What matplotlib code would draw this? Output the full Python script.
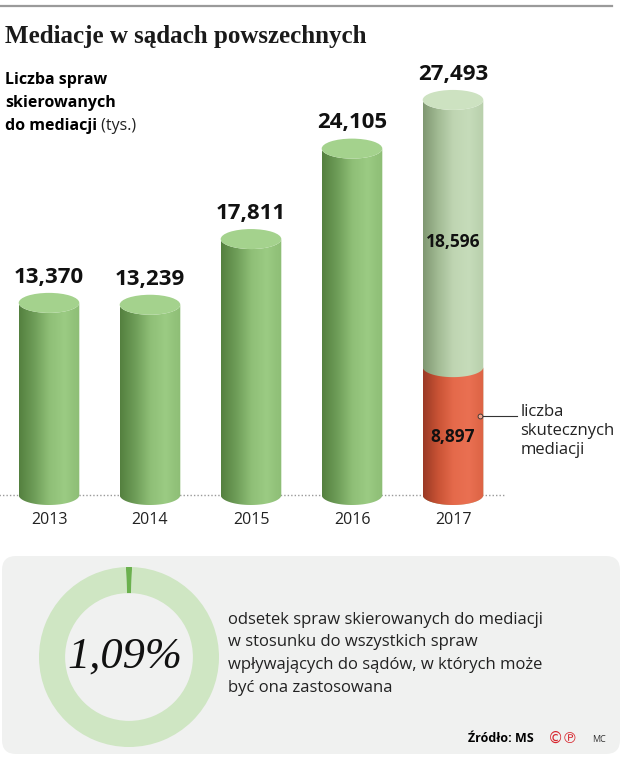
import matplotlib
matplotlib.use('Agg')
import matplotlib.pyplot as plt
import numpy as np
from matplotlib.patches import Ellipse, PathPatch, FancyBboxPatch
from matplotlib.path import Path
from matplotlib.colors import LinearSegmentedColormap

# data (tys.)
years = ['2013', '2014', '2015', '2016', '2017']
totals = [13.370, 13.239, 17.811, 24.105, 27.493]
total_labels = ['13,370', '13,239', '17,811', '24,105', '27,493']
success_2017 = 8.897
rest_2017 = 18.596
share = [1.09, 100 - 1.09]

SANS = 'Open Sans'
W, H = 635, 760

green_cm = LinearSegmentedColormap.from_list('g', ['#54803f', '#6e9d58', '#8fbf77', '#9bcb83', '#8dbd75'])
pale_cm = LinearSegmentedColormap.from_list('p', ['#7f9771', '#a2bb94', '#bfd5b2', '#c6dcba', '#b8cfab'])
red_cm = LinearSegmentedColormap.from_list('r', ['#9a3925', '#c95335', '#e56a4b', '#ea7052', '#dc6344'])

fig = plt.figure(figsize=(W / 100, H / 100), dpi=100)

# background layer in pixel coords
bg = fig.add_axes([0, 0, 1, 1], zorder=0)
bg.set_xlim(0, W)
bg.set_ylim(H, 0)
bg.axis('off')
bg.plot([0, 612], [6, 6], color='#9a9a9a', lw=1.6)
bg.text(5, 36, 'Mediacje w sądach powszechnych', family='Liberation Serif',
        weight='bold', fontsize=18, va='center', ha='left', color='#1a1a1a')
bg.text(5, 80, 'Liczba spraw', family=SANS, weight='bold', fontsize=11.5, va='center')
bg.text(5, 103, 'skierowanych', family=SANS, weight='bold', fontsize=11.5, va='center')
t = bg.text(5, 126, 'do mediacji', family=SANS, weight='bold', fontsize=11.5, va='center')
bg.annotate(' (tys.)', xycoords=t, xy=(1, 0.5), va='center', ha='left',
            family=SANS, fontsize=11.5, color='#222222')

bg.add_patch(FancyBboxPatch((2, 556), 618, 198, boxstyle='round,pad=0,rounding_size=14',
                            fc='#f0f1f0', ec='none'))
desc = ['odsetek spraw skierowanych do mediacji',
        'w stosunku do wszystkich spraw',
        'wpływających do sądów, w których może',
        'być ona zastosowana']
for k, line in enumerate(desc):
    bg.text(228, 620 + 22.5 * k, line, family=SANS, fontsize=12, va='center', color='#222222')
bg.text(468, 738, 'Źródło: MS', family=SANS, weight='bold', fontsize=9, va='center')
bg.text(548, 738, '©℗', family='DejaVu Sans', fontsize=11, va='center', color='#d8262e')
bg.text(592, 739, 'MC', family=SANS, fontsize=6.5, va='center', color='#333333')

# bar chart
px_per_unit = 14.37
base_py = 495
top_py, bot_py = 60, 545
ax = fig.add_axes([0, 1 - bot_py / H, 1, (bot_py - top_py) / H], zorder=1)
ax.patch.set_alpha(0)
ax.axis('off')
w = 0.6
e = 20 / px_per_unit


def body(ax, x, y0, y1, cmap, zo):
    tt = np.linspace(np.pi, 2 * np.pi, 40)
    bottom = np.column_stack([x + w / 2 * np.cos(tt), y0 + e / 2 * np.sin(tt)])
    top = np.column_stack([x + w / 2 * np.cos(tt[::-1]), y1 + e / 2 * np.sin(tt[::-1])])
    verts = np.vstack([[[x - w / 2, y1]], bottom, top, [[x - w / 2, y1]]])
    codes = [Path.MOVETO] + [Path.LINETO] * (len(verts) - 2) + [Path.CLOSEPOLY]
    patch = PathPatch(Path(verts, codes), fc='none', ec='none')
    ax.add_patch(patch)
    grad = np.linspace(0, 1, 256).reshape(1, -1)
    im = ax.imshow(grad, cmap=cmap, extent=[x - w / 2, x + w / 2, y0 - e / 2, y1 + e / 2],
                   aspect='auto', zorder=zo)
    im.set_clip_path(patch)


x = np.arange(len(years))
ax.plot([-0.5, 4.5], [0, 0], color='#999999', lw=1, ls=(0, (1, 1.5)), zorder=1)
for i, v in enumerate(totals):
    last = i == len(totals) - 1
    body(ax, x[i], 0, v, pale_cm if last else green_cm, 2)
    ax.add_patch(Ellipse((x[i], v), w, e, fc='#cde2c1' if last else '#a4d28d', ec='none', zorder=3))
    ax.annotate(total_labels[i], (x[i], v), xytext=(0, 18.5), textcoords='offset points',
                ha='center', va='center', family=SANS, weight='bold', fontsize=16, color='#111111')
    ax.text(x[i], -1.75, years[i], ha='center', va='center', family=SANS, fontsize=11.5, color='#222222')

body(ax, x[-1], 0, success_2017, red_cm, 4)
ax.text(x[-1], (success_2017 + totals[-1]) / 2 - 0.6, '{:,.3f}'.format(rest_2017).replace('.', ','),
        ha='center', va='center', family=SANS, weight='bold', fontsize=12.5, color='#111111', zorder=5)
ax.text(x[-1], success_2017 / 2 - 0.4, '{:,.3f}'.format(success_2017).replace('.', ','),
        ha='center', va='center', family=SANS, weight='bold', fontsize=12.5, color='#111111', zorder=5)

# callout for the red part
ay = 5.5
ax.plot([x[-1] + 0.27, x[-1] + 0.63], [ay, ay], color='#333333', lw=0.8, zorder=5)
ax.plot([x[-1] + 0.27], [ay], 'o', ms=3.5, mfc='#f3a58e', mec='#333333', mew=0.6, zorder=6)
ax.text(x[-1] + 0.665, ay + 0.85, 'liczba\nskutecznych\nmediacji', ha='left', va='top',
        family=SANS, fontsize=12, linespacing=1.25, color='#222222', zorder=5)

ax.set_xlim(-49 / 101, (W - 49) / 101)
ax.set_ylim((base_py - bot_py) / px_per_unit, (base_py - top_py) / px_per_unit)

# donut
dx, dy, r = 129, 657, 90
dax = fig.add_axes([(dx - r) / W, (H - dy - r) / H, 2 * r / W, 2 * r / H], zorder=1)
dax.pie(share, colors=['#6bb14e', '#cfe6c3'], startangle=90 + 1.09 * 1.8, counterclock=False,
        wedgeprops=dict(width=0.29, edgecolor='none'), radius=1)
dax.set_xlim(-1, 1)
dax.set_ylim(-1, 1)
dax.set_aspect('equal')
dax.text(-0.04, 0.0, '1,09%', ha='center', va='center', family='Liberation Serif',
         style='italic', fontsize=32, color='#111111')

fig.savefig('out.png', dpi=100)
